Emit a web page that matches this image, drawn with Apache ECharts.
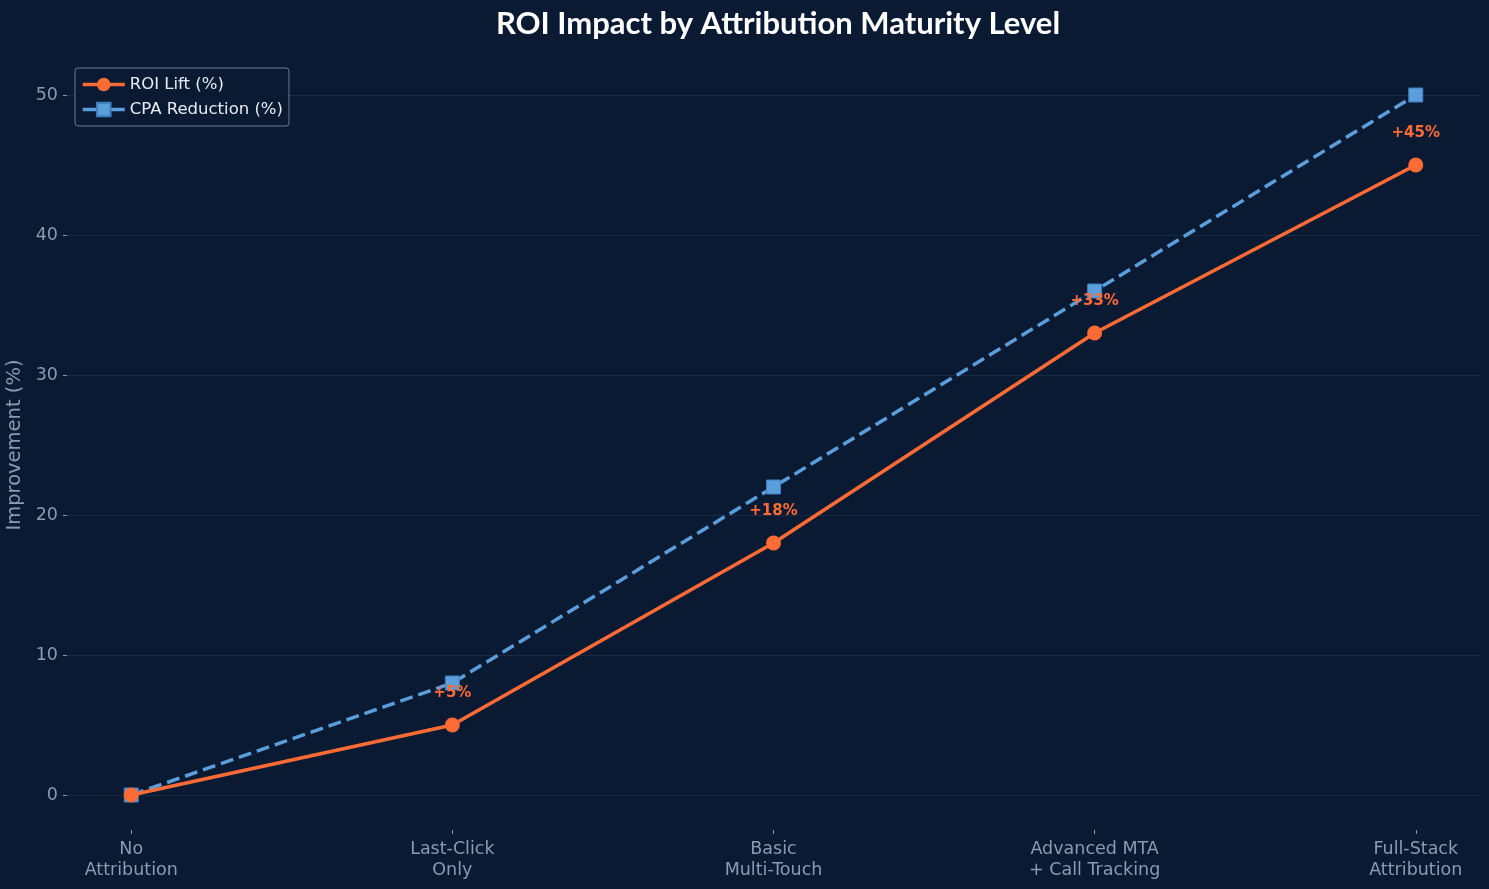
<!DOCTYPE html>
<html>
<head>
<meta charset="utf-8">
<script src="https://cdn.jsdelivr.net/npm/echarts@6/dist/echarts.min.js"></script>
<style>
  html, body { margin: 0; padding: 0; background: #0b1a33; }
  #chart { width: 1489px; height: 889px; }
</style>
</head>
<body>
<div id="chart"></div>
<script>
// data
const levels = ['No\nAttribution', 'Last-Click\nOnly', 'Basic\nMulti-Touch', 'Advanced MTA\n+ Call Tracking', 'Full-Stack\nAttribution']
const roiLift = [0, 5, 18, 33, 45]
const cpaReduction = [0, 8, 22, 36, 50]
const yTicks = [0, 10, 20, 30, 40, 50]

const muted = '#8a9ab3'

const chart = echarts.init(document.getElementById('chart'))

const option = {
  backgroundColor: '#0b1a33',
  animation: false,
  title: {
    text: 'ROI Impact by Attribution Maturity Level',
    left: 773,
    textAlign: 'center',
    top: 3,
    textStyle: { fontFamily: 'Lato', fontWeight: 'bold', fontSize: 31, color: '#ffffff' }
  },
  legend: {
    orient: 'vertical',
    left: 75,
    top: 68,
    padding: [8, 6, 8, 6],
    itemGap: 8,
    itemWidth: 42,
    itemHeight: 17,
    backgroundColor: '#0b1a33',
    borderColor: '#6b7a90',
    borderWidth: 1,
    borderRadius: 3,
    lineStyle: { type: 'solid', width: 3.5 },
    textStyle: { color: '#e6ebf2', fontFamily: 'DejaVu Sans', fontSize: 16.5 },
    data: ['ROI Lift (%)', 'CPA Reduction (%)']
  },
  grid: { left: 67, right: 9, top: 60, bottom: 59, containLabel: false, outerBoundsMode: 'none' },
  xAxis: {
    type: 'value',
    min: -0.2,
    max: 4.2,
    axisLine: { show: false, onZero: false },
    splitLine: { show: false },
    axisTick: { show: true, customValues: [0, 1, 2, 3, 4], length: 4, lineStyle: { color: muted } },
    axisLabel: {
      customValues: [0, 1, 2, 3, 4],
      formatter: v => levels[Math.round(v)],
      color: muted,
      fontFamily: 'DejaVu Sans',
      fontSize: 17.5,
      lineHeight: 21,
      margin: 9
    }
  },
  yAxis: {
    type: 'value',
    min: -2.5,
    max: 52.5,
    name: 'Improvement (%)',
    nameLocation: 'middle',
    nameGap: 39,
    nameTextStyle: { color: muted, fontFamily: 'DejaVu Sans', fontSize: 19.5 },
    axisLine: { show: false, onZero: false },
    axisTick: { show: true, customValues: yTicks, length: 4, lineStyle: { color: muted } },
    axisLabel: { customValues: yTicks, color: muted, fontFamily: 'DejaVu Sans', fontSize: 17.5, margin: 9 },
    splitLine: { show: true, lineStyle: { color: '#1a2a45', width: 1 } }
  },
  series: [
    {
      name: 'CPA Reduction (%)',
      type: 'line',
      data: cpaReduction.map((v, i) => [i, v]),
      symbol: 'rect',
      symbolSize: 14,
      itemStyle: { color: '#5a9fdc', borderColor: '#3c7fbf', borderWidth: 1 },
      lineStyle: { color: '#5a9fdc', width: 3.5, type: [13, 6] },
      z: 2
    },
    {
      name: 'ROI Lift (%)',
      type: 'line',
      data: roiLift.map((v, i) => [i, v]),
      symbol: 'circle',
      symbolSize: 15,
      itemStyle: { color: '#ff6b35' },
      lineStyle: { color: '#ff6b35', width: 3.5 },
      label: {
        show: true,
        position: 'top',
        distance: 17,
        formatter: p => (p.value[1] > 0 ? '+' + p.value[1] + '%' : ''),
        color: '#ff6b35',
        fontFamily: 'DejaVu Sans',
        fontWeight: 'bold',
        fontSize: 15
      },
      z: 3
    }
  ]
}

chart.setOption(option)
</script>
</body>
</html>
